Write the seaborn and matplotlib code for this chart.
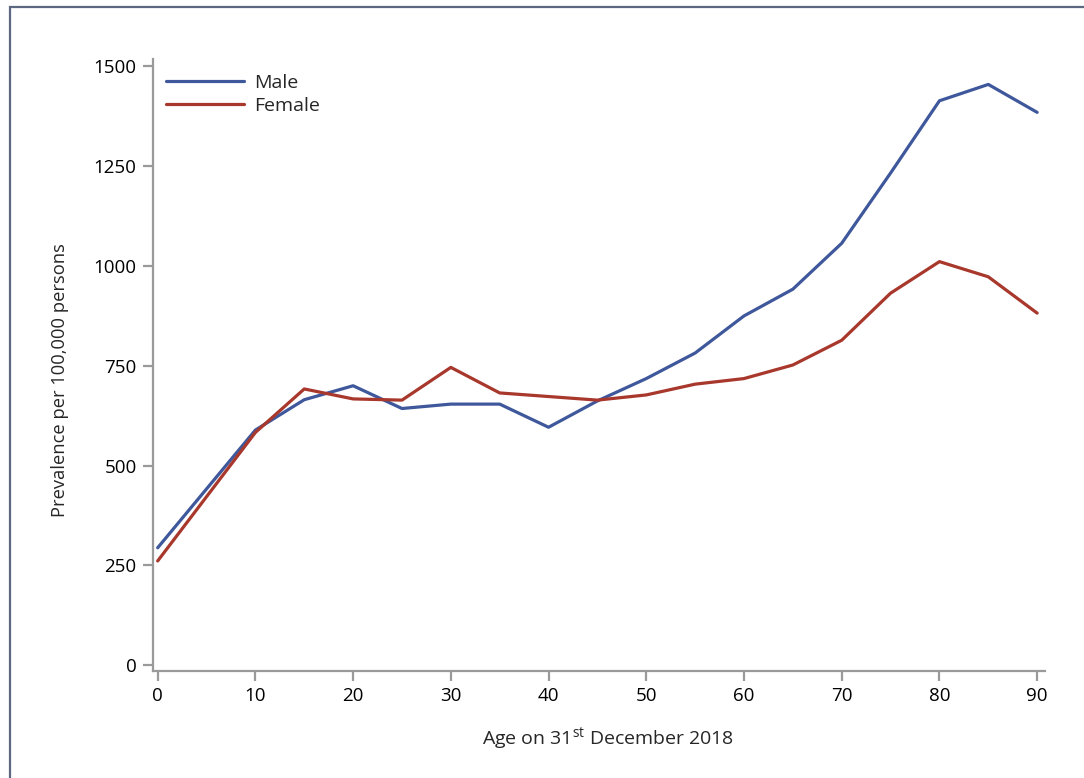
import pandas as pd
import matplotlib
matplotlib.use('Agg')
import matplotlib.pyplot as plt
import seaborn as sns
from matplotlib.patches import Rectangle

# values
ages = [0, 10, 15, 20, 25, 30, 35, 40, 45, 50, 55, 60, 65, 70, 75, 80, 85, 90]
male = [294, 589, 665, 700, 643, 654, 654, 596, 662, 718, 782, 875, 942, 1057, 1233, 1414, 1455, 1385]
female = [261, 583, 692, 667, 664, 746, 682, 673, 664, 677, 704, 718, 752, 814, 932, 1011, 973, 882]
y_ticks = [0, 250, 500, 750, 1000, 1250, 1500]
x_ticks = [0, 10, 20, 30, 40, 50, 60, 70, 80, 90]

df = pd.DataFrame({
    'Age': ages * 2,
    'Prevalence': male + female,
    'Sex': ['Male'] * len(ages) + ['Female'] * len(ages),
})

sns.set_style('white')
plt.rcParams['font.family'] = ['Open Sans', 'DejaVu Sans']
plt.rcParams['mathtext.fontset'] = 'custom'
plt.rcParams['mathtext.rm'] = 'Open Sans'

fig = plt.figure(figsize=(10.84, 7.78), dpi=100)
ax = fig.add_axes([0.1414, 0.1379, 0.8226, 0.7859])

sns.lineplot(data=df, x='Age', y='Prevalence', hue='Sex',
             palette={'Male': '#3f589c', 'Female': '#a8372c'},
             linewidth=2.3, ax=ax)

ax.set_xlim(-0.45, 90.8)
ax.set_ylim(-14, 1518)
ax.set_xticks(x_ticks)
ax.set_yticks(y_ticks)

grey = '#9a9a9a'
for side in ['top', 'right']:
    ax.spines[side].set_visible(False)
for side in ['left', 'bottom']:
    ax.spines[side].set_color(grey)
    ax.spines[side].set_linewidth(1.6)
ax.tick_params(axis='both', which='major', bottom=True, left=True,
               direction='out', length=7, width=1.6, color=grey,
               labelsize=13.5, labelcolor='black', pad=5)

ax.set_xlabel('Age on 31$^{\\mathrm{st}}$ December 2018', fontsize=14)
ax.set_ylabel('Prevalence per 100,000 persons', fontsize=13.2)
ax.xaxis.set_label_coords(0.51, -0.09)
ax.yaxis.set_label_coords(-0.0945, 0.475)

ax.legend(loc='upper left', bbox_to_anchor=(-0.005, 1.005), frameon=False,
          fontsize=14, handlelength=4.0, handletextpad=0.5, labelspacing=0.25,
          title=None)

# outer frame around the figure (only left/top edges visible in the reference)
fig.patches.append(Rectangle((10 / 1084, -0.05), 1.2, (778 - 7) / 778 + 0.05,
                             transform=fig.transFigure, fill=False,
                             edgecolor='#5b6880', linewidth=1.6))

fig.savefig('out.png', dpi=100)
